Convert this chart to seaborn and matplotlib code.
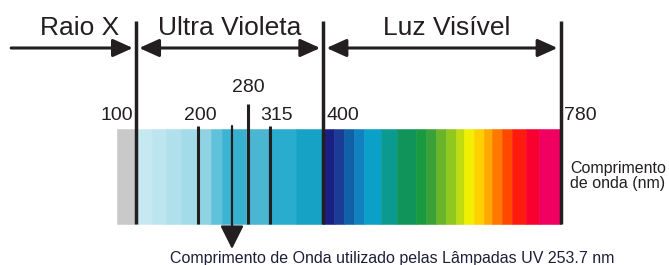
import matplotlib
matplotlib.use("Agg")
import matplotlib.pyplot as plt
import seaborn as sns

# ---- data -------------------------------------------------------------
regions = ["Raio X", "Ultra Violeta", "Luz Visível"]
region_edges = [-100, 100, 400, 780]          # nm, arrow extents
boundary_nm = [100, 400, 780]
inner_nm = [200, 315]
tall_nm = 280
tick_labels = ["100", "200", "280", "315", "400", "780"]
lamp_nm = 253.7
lamp_text = "Comprimento de Onda utilizado pelas Lâmpadas UV 253.7 nm"
axis_text = ["Comprimento", "de onda (nm)"]

xray_start = [70]
xray_colors = ["#c9c9c9"]

uv_start = [100, 126, 148, 172, 197, 220, 238, 256, 276, 312, 356]
uv_colors = ["#c6e9f1", "#bde5ef", "#b0e0ec", "#a3dbe8", "#8fd2e2", "#5fc2da",
             "#3bb3d2", "#38b0d0", "#4ab6d2", "#2aacce", "#16a2c4"]

vis_start = [400, 417, 433, 449, 465, 492, 518, 548, 564, 580, 596, 612,
             625, 641, 657, 670, 686, 702, 724, 745]
vis_colors = ["#1a1f86", "#1a3c96", "#1060a8", "#1080c0", "#0aa0c8", "#0a9a90",
              "#10945a", "#1a9a40", "#3aa038", "#6ab42a", "#90c820", "#c0dc10",
              "#f0f000", "#ffd000", "#ffa800", "#ff7800", "#ff4800", "#ff1a10",
              "#f80030", "#f00060"]
spectrum_end = 780

# ---- figure -----------------------------------------------------------
sns.set_style("white")
plt.rcParams["font.family"] = ["Liberation Sans", "DejaVu Sans"]
ink = "#231f20"

fig = plt.figure(figsize=(6.69, 2.65), dpi=100)
ax = fig.add_axes([0, 0, 1, 1])
ax.set_xlim(-117.8, 953.5)
ax.set_ylim(265, 0)
ax.axis("off")

band_top, band_bottom = 129, 224
starts = xray_start + uv_start + vis_start
colors = xray_colors + uv_colors + vis_colors
ends = starts[1:] + [spectrum_end]
widths = [e - s for s, e in zip(starts, ends)]
ax.bar(starts, band_bottom - band_top, width=widths, bottom=band_top,
       align="edge", color=colors, edgecolor=colors, linewidth=0.4, zorder=1)

# vertical lines
ax.vlines(boundary_nm, 21, band_bottom, color=ink, lw=2.5, zorder=3)
ax.vlines(inner_nm, 126, band_bottom, color=ink, lw=2.2, zorder=3)
ax.vlines(tall_nm, 104, band_bottom, color=ink, lw=2.2, zorder=3)

# region arrows
arrow_y = 48
heads = ["-|>", "<|-|>", "<|-|>"]
for i, name in enumerate(regions):
    a, b = region_edges[i], region_edges[i + 1]
    pad0 = 0 if i == 0 else 5
    ax.annotate("", xy=(b - 5, arrow_y), xytext=(a + pad0, arrow_y),
                arrowprops=dict(arrowstyle=heads[i] + ",head_length=0.6,head_width=0.27",
                                mutation_scale=20, lw=2.2, color=ink,
                                shrinkA=0, shrinkB=0), zorder=4)

title_x = [10, 250, 598]
for name, x in zip(regions, title_x):
    ax.text(x, 35, name, ha="center", va="baseline", fontsize=19, color=ink)

# tick numbers
tick_pos = [(95, 120, "right"), (203, 120, "center"), (280, 92, "center"),
            (325, 120, "center"), (405, 120, "left"), (786, 120, "left")]
for lab, (x, y, ha) in zip(tick_labels, tick_pos):
    ax.text(x, y, lab, ha=ha, va="baseline", fontsize=14, color=ink)

# lamp arrow
ax.annotate("", xy=(lamp_nm, 249), xytext=(lamp_nm, 126),
            arrowprops=dict(arrowstyle="-|>,head_length=0.72,head_width=0.36",
                            mutation_scale=20, lw=1.6, color=ink,
                            shrinkA=0, shrinkB=0), zorder=4)
ax.text(lamp_nm - 100, 263, lamp_text, ha="left", va="baseline",
        fontsize=11.5, color="#1e1e3a")

ax.text(795, 173, axis_text[0], ha="left", va="baseline", fontsize=11.5, color=ink)
ax.text(795, 188, axis_text[1], ha="left", va="baseline", fontsize=11.5, color=ink)

fig.savefig("out.png", dpi=100)
